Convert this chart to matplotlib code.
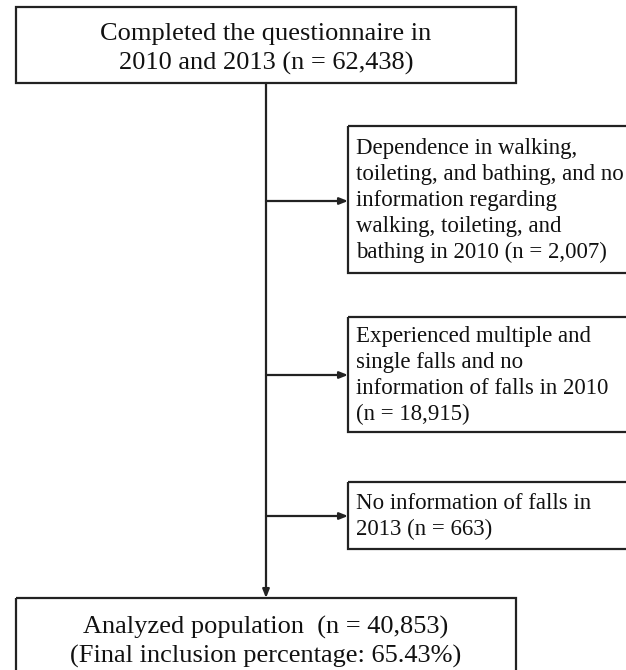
import matplotlib
matplotlib.use("Agg")
import matplotlib.pyplot as plt
from matplotlib.patches import Rectangle

# Flowchart content
top_text = ["Completed the questionnaire in", "2010 and 2013 (n = 62,438)"]
exclusion_texts = [
    ["Dependence in walking,", "toileting, and bathing, and no", "information regarding",
     "walking, toileting, and", "bathing in 2010 (n = 2,007)"],
    ["Experienced multiple and", "single falls and no", "information of falls in 2010",
     "(n = 18,915)"],
    ["No information of falls in", "2013 (n = 663)"],
]
bottom_text = ["Analyzed population  (n = 40,853)", "(Final inclusion percentage: 65.43%)"]

W, H = 626, 670
fig = plt.figure(figsize=(W / 100, H / 100), dpi=100)
ax = fig.add_axes([0, 0, 1, 1])
ax.set_xlim(0, W)
ax.set_ylim(H, 0)
ax.axis("off")

FONT = "Liberation Serif"
EC = "#222222"
TC = "#111111"
LW = 1.6

# layout (pixel coordinates)
main_box = (16, 7, 516, 83)
side_boxes = [(348, 126, 640, 273), (348, 317, 640, 432), (348, 482, 640, 549)]
bottom_box = (16, 598, 516, 700)
spine_x = 266
arrow_ys = [201, 375, 516]


def box(b):
    x0, y0, x1, y1 = b
    ax.add_patch(Rectangle((x0, y0), x1 - x0, y1 - y0, fill=False, ec=EC, lw=LW,
                           clip_on=True))


box(main_box)
ax.text(spine_x, 49, "\n".join(top_text), ha="center",
        va="center", fontsize=19, family=FONT, color=TC, linespacing=1.4)

for b, lines in zip(side_boxes, exclusion_texts):
    box(b)
    ax.text(b[0] + 8, (b[1] + b[3]) / 2 + 1, "\n".join(lines), ha="left", va="center",
            fontsize=16.5, family=FONT, color=TC, linespacing=1.3)

box(bottom_box)
ax.text(spine_x, 642, "\n".join(bottom_text), ha="center", va="center",
        fontsize=19, family=FONT, color=TC, linespacing=1.35)

# vertical spine with arrow to bottom box
aprops = dict(arrowstyle="-|>,head_length=0.5,head_width=0.2",
              color=EC, lw=LW, shrinkA=0, shrinkB=0)
ax.annotate("", xy=(spine_x, bottom_box[1]), xytext=(spine_x, main_box[3]),
            arrowprops=aprops)
for y, b in zip(arrow_ys, side_boxes):
    ax.annotate("", xy=(b[0], y), xytext=(spine_x, y), arrowprops=aprops)

fig.savefig("out.png", dpi=100, facecolor="white")
